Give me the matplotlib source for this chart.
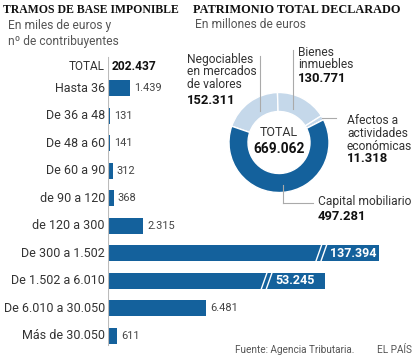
import matplotlib
matplotlib.use("Agg")
import matplotlib.pyplot as plt
from matplotlib.lines import Line2D

# ---------------- data ----------------
tramos = ["Hasta 36", "De 36 a 48", "De 48 a 60", "De 60 a 90", "de 90 a 120",
          "de 120 a 300", "De 300 a 1.502", "De 1.502 a 6.010",
          "De 6.010 a 30.050", "Más de 30.050"]
tramos_valor = [1439, 131, 141, 312, 368, 2315, 137394, 53245, 6481, 611]
tramos_total = 202437

patrimonio_cat = ["Negociables\nen mercados\nde valores", "Bienes\ninmuebles",
                  "Afectos a\nactividades\neconómicas", "Capital mobiliario"]
patrimonio_valor = [152311, 130771, 11318, 497281]
patrimonio_total = 669062

# broken bars: drawn length (in data units) for values beyond the scale
broken_len = {137394: 17900, 53245: 14300}

def fmt(v):
    return f"{v:,}".replace(",", ".")

# ---------------- style ----------------
W, H = 414, 363
DPI = 100
BLUE = "#14619c"
LIGHT = "#c5d8ea"
DARK = "#222222"
GRAY = "#555555"
SANS = ["Roboto", "DejaVu Sans"]
SERIF = ["Liberation Serif", "DejaVu Serif"]

def pt(px):
    return px * 72.0 / DPI

fig = plt.figure(figsize=(W / DPI, H / DPI), dpi=DPI)
fig.patch.set_facecolor("white")

def ax_px(left, top, width, height, **kw):
    return fig.add_axes([left / W, 1 - (top + height) / H, width / W, height / H], **kw)

# overlay in pixel coordinates
ov = ax_px(0, 0, W, H)
ov.set_xlim(0, W)
ov.set_ylim(H, 0)
ov.axis("off")
ov.set_zorder(5)
ov.patch.set_alpha(0)

def T(x, y, s, size, color=DARK, weight="normal", ha="left", va="center", family=SANS, **kw):
    ov.text(x, y, s, fontsize=pt(size), color=color, fontweight=weight, ha=ha, va=va,
            family=family, **kw)

# titles
T(3, 10, "TRAMOS DE BASE IMPONIBLE", 11.8, color="#111111", weight="bold", family=SERIF)
T(193, 10, "PATRIMONIO TOTAL DECLARADO", 12.3, color="#111111", weight="bold", family=SERIF)
T(8, 25, "En miles de euros y", 12, color=GRAY)
T(8, 41, "nº de contribuyentes", 12, color=GRAY)
T(195, 25, "En millones de euros", 12, color=GRAY)

# ---------------- bars ----------------
row0, pitch = 88.0, 27.55
top_px, bot_px = 52, 350
left_px = 108
unit_per_px = 66.0
bx = ax_px(left_px, top_px, W - left_px, bot_px - top_px)
bx.set_xlim(0, (W - left_px) * unit_per_px)
bx.set_ylim((bot_px - row0) / pitch, (top_px - row0) / pitch)
bx.axis("off")

ypos = list(range(len(tramos)))
lengths = [broken_len.get(v, v) for v in tramos_valor]
bx.barh(ypos, lengths, height=16 / pitch, color=BLUE, left=0)
bx.axvline(0, ymin=(bot_px - 345) / (bot_px - top_px), ymax=(bot_px - 57) / (bot_px - top_px),
           color="#bbbbbb", lw=0.8)

for y, v, L, lab in zip(ypos, tramos_valor, lengths, tramos):
    bx.text(-3 * unit_per_px, y, lab, ha="right", va="center", fontsize=pt(12.5),
            color="#333333", family=SANS)
    if v in broken_len:
        xb = L - 64 * unit_per_px
        for dx in (0, 5):
            x0 = xb + dx * unit_per_px
            bx.plot([x0, x0 + 7 * unit_per_px], [y + 0.36, y - 0.36], color="white",
                    lw=1.0, solid_capstyle="butt")
        bx.text(xb + 15 * unit_per_px, y, fmt(v), ha="left", va="center",
                fontsize=pt(12.5), color="white", fontweight="bold", family=SANS)
    else:
        bx.text(L + 4 * unit_per_px, y, fmt(v), ha="left", va="center",
                fontsize=pt(11), color="#444444", family=SANS)

ytot = (66 - row0) / pitch
bx.text(-3 * unit_per_px, ytot, "TOTAL", ha="right", va="center", fontsize=pt(11.8),
        color="#333333", family=SANS)
bx.text(4 * unit_per_px, ytot, fmt(tramos_total), ha="left", va="center", fontsize=pt(12),
        color="#111111", fontweight="bold", family=SANS)

# ---------------- donut ----------------
cx, cy, R = 279, 142.5, 50
dx_ = ax_px(cx - R, cy - R, 2 * R, 2 * R)
colors = [LIGHT, LIGHT, LIGHT, BLUE]
dx_.pie(patrimonio_valor, colors=colors, startangle=161, counterclock=False, radius=1.0,
        wedgeprops=dict(width=0.38, edgecolor="white", linewidth=1.0))
dx_.set_xlim(-1, 1)
dx_.set_ylim(-1, 1)
dx_.set_aspect("equal")
dx_.axis("off")

T(cx, 133, "TOTAL", 12.5, color="#333333", ha="center")
T(cx, 149, fmt(patrimonio_total), 13.8, color="#111111", weight="bold", ha="center")

# leader lines
lc = "#aaaaaa"
ov.add_line(Line2D([260, 260], [56, 111], color=lc, lw=0.8))
ov.add_line(Line2D([293, 293], [50, 109], color=lc, lw=0.8))
ov.add_line(Line2D([322, 336], [118, 118], color=lc, lw=0.8))
ov.add_line(Line2D([283, 283], [185, 203], color=lc, lw=0.8))
ov.add_line(Line2D([283, 313], [203, 203], color=lc, lw=0.8))

# labels
lab_pos = [(187, 59, 100), (298, 52, 78), (347, 121, 159), (318, 202, 217)]
for (x, y, yv), lab, v in zip(lab_pos, patrimonio_cat, patrimonio_valor):
    for i, line in enumerate(lab.split("\n")):
        T(x, y + i * 12.6, line, 12, color="#333333")
    T(x, yv, fmt(v), 13, color="#111111", weight="bold")

# footer
T(235, 350, "Fuente: Agencia Tributaria.", 10, color=GRAY)
T(377, 350, "EL PAÍS", 10, color=GRAY)

fig.savefig("out.png", dpi=DPI, facecolor="white")
